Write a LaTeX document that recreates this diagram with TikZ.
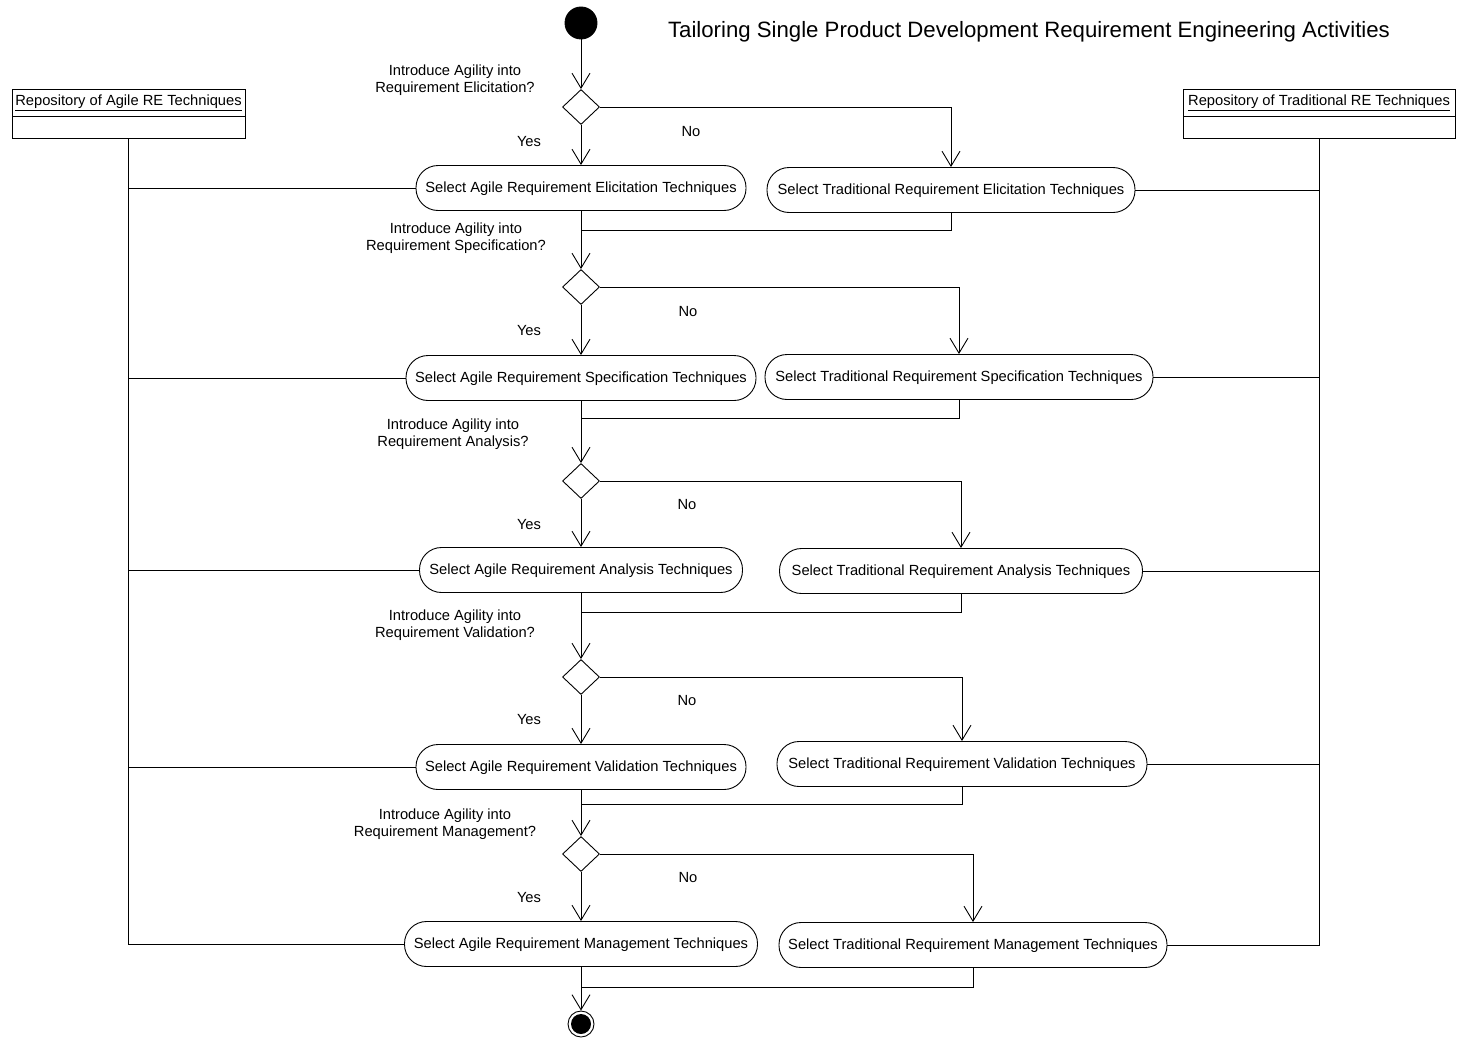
\documentclass[tikz,border=0pt]{standalone}
\usepackage{fontspec}
\setmainfont{Liberation Sans}
\usetikzlibrary{arrows.meta,shapes.geometric}
\begin{document}
\begin{tikzpicture}[x=1pt,y=-1pt, line width=0.9pt,
  font=\fontsize{14.7}{17}\selectfont,
  act/.style={draw, rectangle, rounded corners=22pt, minimum height=45pt, inner sep=0, text depth=0.15em},
  dec/.style={draw, diamond, minimum width=37pt, minimum height=35pt, inner sep=0},
  flow/.style={-{Straight Barb[length=15pt,width=18pt,line width=0.9pt]}},
  lbl/.style={align=center, inner sep=0},
  repo/.style={draw, inner sep=0}]
\useasboundingbox (0,0) rectangle (1459,1041);

% title
\node[inner sep=0, font=\fontsize{22.2}{26}\selectfont] (title) at (1029,32) {Tailoring Single Product Development Requirement Engineering Activities};

% start / end
\node[circle, fill=black, draw, minimum size=32pt, inner sep=0] (start) at (581,23) {};
\node[circle, draw, minimum size=26pt, inner sep=0] (end) at (581,1024) {};
\fill (end.center) circle (10pt);

% repositories
\node[repo, minimum width=233pt, minimum height=27pt] (ra) at (128.5,102.5) {\underline{Repository of Agile RE Techniques}};
\node[repo, minimum width=233pt, minimum height=22pt, anchor=north] (rab) at (ra.south) {};
\node[repo, minimum width=272pt, minimum height=27pt] (rt) at (1319,102.5) {\underline{Repository of Traditional RE Techniques}};
\node[repo, minimum width=272pt, minimum height=22pt, anchor=north] (rtb) at (rt.south) {};

% decisions
\node[dec] (d1) at (581,107) {};
\node[dec] (d2) at (581,287) {};
\node[dec] (d3) at (581,481) {};
\node[dec] (d4) at (581,677) {};
\node[dec] (d5) at (581,854) {};

% agile activities
\node[act, minimum width=330pt] (a1) at (581,188) {Select Agile Requirement Elicitation Techniques};
\node[act, minimum width=350pt] (a2) at (581,378) {Select Agile Requirement Specification Techniques};
\node[act, minimum width=323pt] (a3) at (581,570) {Select Agile Requirement Analysis Techniques};
\node[act, minimum width=330pt] (a4) at (581,767) {Select Agile Requirement Validation Techniques};
\node[act, minimum width=353pt] (a5) at (581,944) {Select Agile Requirement Management Techniques};

% traditional activities
\node[act, minimum width=368pt] (t1) at (951,190) {Select Traditional Requirement Elicitation Techniques};
\node[act, minimum width=388pt] (t2) at (959,377) {Select Traditional Requirement Specification Techniques};
\node[act, minimum width=363pt] (t3) at (961,571) {Select Traditional Requirement Analysis Techniques};
\node[act, minimum width=370pt] (t4) at (962,764) {Select Traditional Requirement Validation Techniques};
\node[act, minimum width=388pt] (t5) at (973,945) {Select Traditional Requirement Management Techniques};

% merge points
\coordinate (m1) at (581,230);
\coordinate (m2) at (581,418);
\coordinate (m3) at (581,612);
\coordinate (m4) at (581,804);
\coordinate (m5) at (581,987);

% question labels
\node[lbl] (q1) at (455,80) {Introduce Agility into\\Requirement Elicitation?};
\node[lbl] (q2) at (456,238) {Introduce Agility into\\Requirement Specification?};
\node[lbl] (q3) at (453,434) {Introduce Agility into\\Requirement Analysis?};
\node[lbl] (q4) at (455,625) {Introduce Agility into\\Requirement Validation?};
\node[lbl] (q5) at (445,824) {Introduce Agility into\\Requirement Management?};

% yes / no labels
\node[lbl] (y1) at (529,142) {Yes};
\node[lbl] (y2) at (529,331) {Yes};
\node[lbl] (y3) at (529,525) {Yes};
\node[lbl] (y4) at (529,720) {Yes};
\node[lbl] (y5) at (529,898) {Yes};
\node[lbl] (n1) at (691,132) {No};
\node[lbl] (n2) at (688,312) {No};
\node[lbl] (n3) at (687,505) {No};
\node[lbl] (n4) at (687,701) {No};
\node[lbl] (n5) at (688,878) {No};

% flow
\draw[flow] (start) -- (d1);
\foreach \i/\j in {1/2,2/3,3/4,4/5} {
  \draw[flow] (a\i.south) -- (d\j.north);
}
\foreach \i in {1,...,5} {
  \draw[flow] (d\i.south) -- (a\i.north);
  \draw[flow] (d\i.east) -| (t\i.north);
  \draw (t\i.south) |- (m\i);
}
\draw[flow] (a5.south) -- (end);

% repository links
\draw (rab.south) |- (a5.west);
\foreach \n in {a1,a2,a3,a4} \draw (rab.south |- \n.west) -- (\n.west);
\draw (rtb.south) |- (t5.east);
\foreach \n in {t1,t2,t3,t4} \draw (rtb.south |- \n.east) -- (\n.east);
\end{tikzpicture}
\end{document}
